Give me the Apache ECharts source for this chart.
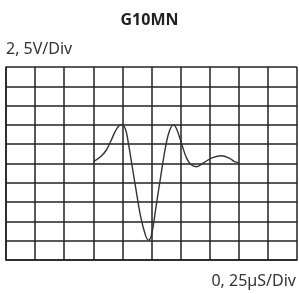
<!DOCTYPE html>
<html>
<head>
    <meta charset="UTF-8">
    <title>G10MN</title>
    <script src="https://cdn.jsdelivr.net/npm/echarts@6/dist/echarts.min.js"></script>
    <style>
        html, body { margin: 0; padding: 0; background: #fff; }
    </style>
</head>
<body>
<div id="main" style="width: 299px;height:294px;"></div>

<script type="text/javascript">
    // waveform, x in time divisions, y in volt divisions
    var timeDiv = [3.0, 3.25, 3.45, 3.6, 3.75, 3.88, 3.98, 4.1, 4.2, 4.32, 4.45, 4.62, 4.78, 4.89, 5.0, 5.15, 5.35, 5.5, 5.62, 5.75, 5.86, 6.04, 6.2, 6.35, 6.55, 6.8, 7.1, 7.41, 7.7, 7.85, 7.98];
    var voltDiv = [0.1, 0.35, 0.7, 1.15, 1.65, 1.95, 2.0, 1.8, 1.1, 0.0, -1.2, -2.7, -3.65, -3.97, -3.7, -2.3, -0.34, 1.0, 1.7, 2.0, 1.8, 1.0, 0.3, -0.05, -0.17, 0.05, 0.3, 0.4, 0.25, 0.1, 0.05];

    var titleText = 'G10MN';
    var voltLabel = '2, 5V/Div';
    var timeLabel = '0, 25µS/Div';

    var points = [];
    for (var i = 0; i < timeDiv.length; i++) {
        points.push([timeDiv[i], voltDiv[i]]);
    }

    var myChart = echarts.init(document.getElementById('main'));
    var gridColor = '#222';
    var option = {
        animation: false,
        textStyle: { fontFamily: 'Noto Sans' },
        title: [
            { text: titleText, left: 'center', top: 7, textStyle: { fontSize: 16, fontWeight: 'bold', color: '#222' } },
            { text: voltLabel, left: 1, top: 36, textStyle: { fontSize: 16, fontWeight: 'normal', color: '#333' } },
            { text: timeLabel, right: -2, top: 268, textStyle: { fontSize: 16, fontWeight: 'normal', color: '#333' } }
        ],
        grid: { left: 6, right: 2, top: 67, bottom: 34 },
        xAxis: {
            type: 'value', min: 0, max: 10, interval: 1,
            axisLine: { show: true, onZero: false, lineStyle: { color: gridColor, width: 1.5 } },
            axisTick: { show: false },
            axisLabel: { show: false },
            splitLine: { show: true, lineStyle: { color: gridColor, width: 1.5 } }
        },
        yAxis: {
            type: 'value', min: -5, max: 5, interval: 1,
            axisLine: { show: true, onZero: false, lineStyle: { color: gridColor, width: 1.5 } },
            axisTick: { show: false },
            axisLabel: { show: false },
            splitLine: { show: true, lineStyle: { color: gridColor, width: 1.5 } }
        },
        series: [{
            type: 'line',
            data: points,
            smooth: 0.4,
            symbol: 'none',
            lineStyle: { color: '#333', width: 1.4 }
        }]
    };
    myChart.setOption(option);
</script>
</body>
</html>
